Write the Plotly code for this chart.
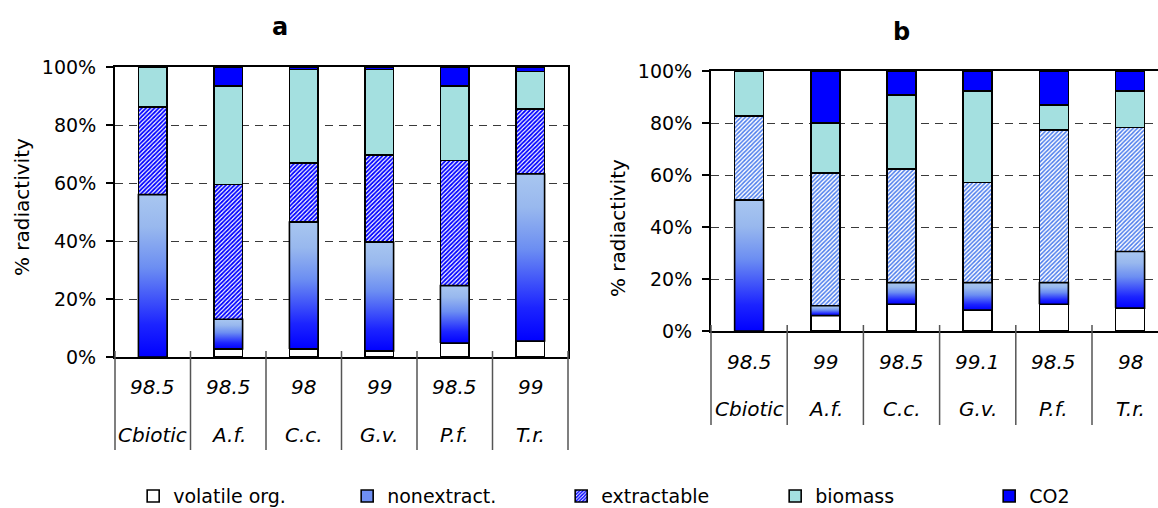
import plotly.graph_objects as go

categories = ["Cbiotic", "A.f.", "C.c.", "G.v.", "P.f.", "T.r."]
recovery_a = ["98.5", "98.5", "98", "99", "98.5", "99"]
recovery_b = ["98.5", "99", "98.5", "99.1", "98.5", "98"]

volatile_a = [0, 2.8, 2.8, 2.1, 4.8, 5.5]
nonextract_a = [56.0, 10.2, 43.7, 37.5, 19.8, 57.6]
extractable_a = [30.2, 46.5, 20.5, 30.0, 43.2, 22.5]
biomass_a = [13.8, 34.0, 32.1, 29.5, 25.6, 12.8]
co2_a = [0, 6.5, 0.9, 0.9, 6.6, 1.6]

volatile_b = [0, 5.9, 10.3, 8.1, 10.3, 8.8]
nonextract_b = [50.3, 3.8, 8.3, 10.5, 8.3, 21.8]
extractable_b = [32.3, 51.1, 43.6, 38.5, 58.7, 47.6]
biomass_b = [17.4, 19.3, 28.6, 35.3, 9.6, 14.2]
co2_b = [0, 19.9, 9.2, 7.6, 13.1, 7.6]

yticks = [0, 20, 40, 60, 80, 100]
yticktext = [f"{v}%" for v in yticks]

FONT = "DejaVu Sans"
W, H = 1158, 508
BW = 0.38
LINE = dict(color="black", width=1.6)
GRAD = [[0, "#0000ff"], [0.2, "#1c24ff"], [0.55, "#6c8ef2"], [0.8, "#98b8ee"], [1, "#a8c6f0"]]

fig = go.Figure()
xs = list(range(len(categories)))


def add_panel(vol, non, ext, bio, co2, xa, ya, ext_color, ext_sol, show):
    common = dict(x=xs, width=BW, xaxis=xa, yaxis=ya)
    fig.add_trace(go.Bar(y=vol, name="volatile org.", marker=dict(color="white", line=LINE),
                         showlegend=show, legendgroup="v", **common))
    fig.add_trace(go.Bar(y=non, name="nonextract.", marker=dict(color="#6f8ff2", line=LINE),
                         showlegend=show, legendgroup="n", **common))
    fig.add_trace(go.Bar(y=ext, name="extractable",
                         marker=dict(color=ext_color, line=LINE,
                                     pattern=dict(shape="/", fgcolor=ext_color, bgcolor="white",
                                                  fgopacity=1, fillmode="replace",
                                                  size=3, solidity=ext_sol)),
                         showlegend=show, legendgroup="e", **common))
    fig.add_trace(go.Bar(y=bio, name="biomass", marker=dict(color="#a4e0e0", line=LINE),
                         showlegend=show, legendgroup="b", **common))
    fig.add_trace(go.Bar(y=co2, name="CO2", marker=dict(color="#0000ff", line=LINE),
                         showlegend=show, legendgroup="c", **common))
    # gradient overlay for the nonextractable segments
    for i, (v, n) in enumerate(zip(vol, non)):
        x0, x1 = i - BW / 2, i + BW / 2
        fig.add_trace(go.Scatter(
            x=[x0, x1, x1, x0, x0], y=[v, v, v + n, v + n, v],
            fill="toself", mode="lines", line=dict(color="black", width=1.6),
            fillgradient=dict(type="vertical", colorscale=GRAD),
            showlegend=False, hoverinfo="skip", xaxis=xa, yaxis=ya))


add_panel(volatile_a, nonextract_a, extractable_a, biomass_a, co2_a, "x", "y", "#0000ff", 0.6, True)
add_panel(volatile_b, nonextract_b, extractable_b, biomass_b, co2_b, "x2", "y2", "#4a7bec", 0.5, False)

# panel geometry (pixels)
ax_l, ax_r, ax_t, ax_b = 115, 568, 67, 357
bx_l, bx_t, bx_b = 711, 71, 331
cat_w_b = 76.2
b_range_max = -0.5 + (W - bx_l) / cat_w_b

yax = dict(range=[0, 100], tickmode="array", tickvals=yticks, ticktext=yticktext,
           showline=True, linecolor="black",
           linewidth=2, ticks="outside", ticklen=7, tickwidth=1.5, tickcolor="black",
           ticklabelstandoff=6,
           showgrid=True, gridcolor="#3a3a3a", gridwidth=1, griddash="8px,6px", zeroline=False,
           tickfont=dict(family=FONT, size=19, color="black"))
xax = dict(showticklabels=False, ticks="", showgrid=False, zeroline=False, showline=True,
           linecolor="black", linewidth=2)

fig.update_layout(
    width=W, height=H, margin=dict(l=0, r=0, t=0, b=0, autoexpand=False),
    paper_bgcolor="white", plot_bgcolor="white", barmode="stack", bargap=0.6,
    font=dict(family=FONT, color="black"),
    xaxis=dict(domain=[ax_l / W, ax_r / W], range=[-0.5, 5.5], mirror=True, anchor="y", **xax),
    yaxis=dict(domain=[1 - ax_b / H, 1 - ax_t / H], mirror=True, anchor="x", **yax),
    xaxis2=dict(domain=[bx_l / W, 1], range=[-0.5, b_range_max], mirror=True, anchor="y2", **xax),
    yaxis2=dict(domain=[1 - bx_b / H, 1 - bx_t / H], anchor="x2", **yax),
    legend=dict(orientation="h", x=0.115, xanchor="left", y=-0.014, yanchor="bottom",
                entrywidth=169, entrywidthmode="pixels", itemwidth=30,
                font=dict(family=FONT, size=19, color="black"), bgcolor="rgba(0,0,0,0)"),
)

shapes = []
annotations = []
panels = [
    ("x", "y", 6, ax_b - ax_t, ax_b, 450, 387, 435, recovery_a),
    ("x2", "y2", b_range_max + 0.5, bx_b - bx_t, bx_b, 425, 362, 409, recovery_b),
]
for xr, yr, span, ph, base, sep_end, r1, r2, rec in panels:
    for k in range(len(categories) + 1):
        fx = k / span
        if fx > 1:
            continue
        shapes.append(dict(type="line", xref=f"{xr} domain", yref=f"{yr} domain",
                           x0=fx, x1=fx, y0=6 / ph, y1=-(sep_end - base) / ph,
                           line=dict(color="#555555", width=1.5)))
    for i, cat in enumerate(categories):
        annotations.append(dict(x=i, y=-(r1 - base) / ph, xref=xr, yref=f"{yr} domain",
                                text=f"<i>{rec[i]}</i>", showarrow=False,
                                font=dict(family=FONT, size=20, color="black"),
                                xanchor="center", yanchor="middle"))
        annotations.append(dict(x=i, y=-(r2 - base) / ph, xref=xr, yref=f"{yr} domain",
                                text=f"<i>{cat}</i>", showarrow=False,
                                font=dict(family=FONT, size=20, color="black"),
                                xanchor="center", yanchor="middle"))

annotations += [
    dict(x=280 / W, y=1 - 27 / H, xref="paper", yref="paper", text="<b>a</b>", showarrow=False,
         xanchor="center", yanchor="middle", font=dict(family=FONT, size=24, color="black")),
    dict(x=901 / W, y=1 - 32 / H, xref="paper", yref="paper", text="<b>b</b>", showarrow=False,
         xanchor="center", yanchor="middle", font=dict(family=FONT, size=24, color="black")),
    dict(x=22 / W, y=1 - 207 / H, xref="paper", yref="paper", text="% radiactivity",
         xanchor="center", yanchor="middle",
         textangle=-90, showarrow=False, font=dict(family=FONT, size=20, color="black")),
    dict(x=618 / W, y=1 - 228 / H, xref="paper", yref="paper", text="% radiactivity",
         xanchor="center", yanchor="middle",
         textangle=-90, showarrow=False, font=dict(family=FONT, size=20, color="black")),
]

fig.update_layout(shapes=shapes, annotations=annotations)
fig.write_html("out.html", config={"displayModeBar": False},
               post_script="document.body.style.margin='0';document.body.style.padding='0';")
